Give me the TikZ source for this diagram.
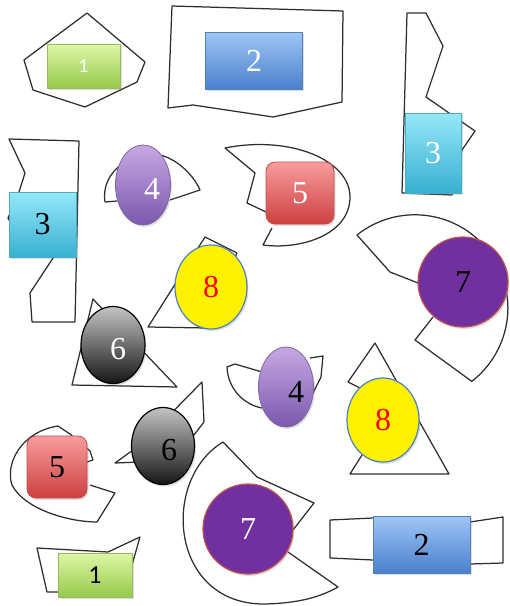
\documentclass[tikz,border=0pt]{standalone}
\usepackage{fontspec}
\setmainfont{Liberation Serif}
\newfontfamily\onefont{Carlito}
\usetikzlibrary{shapes.geometric,shadows}
\definecolor{gtop}{HTML}{DDF7A6}\definecolor{gbot}{HTML}{97C94C}\definecolor{gbd}{HTML}{9BBB59}
\definecolor{btop}{HTML}{A0C6F7}\definecolor{bbot}{HTML}{4A80CC}\definecolor{bbd}{HTML}{4F81BD}
\definecolor{ctop}{HTML}{95E8F8}\definecolor{cbot}{HTML}{38B0D2}\definecolor{cbd}{HTML}{4BACC6}
\definecolor{vtop}{HTML}{C6A9E3}\definecolor{vbot}{HTML}{7A58AE}\definecolor{vbd}{HTML}{8064A2}
\definecolor{rtop}{HTML}{F99C9C}\definecolor{rbot}{HTML}{CC4040}\definecolor{rbd}{HTML}{C0504D}
\definecolor{ybd}{HTML}{4F81BD}
\definecolor{pfill}{HTML}{7030A0}
\definecolor{ktop}{HTML}{C4C4C4}\definecolor{kbot}{HTML}{151515}
\begin{document}
\begin{tikzpicture}[x=1pt,y=-1pt,
  outl/.style={draw=black!82,line width=1.25pt,line join=round},
  shd/.style={drop shadow={opacity=0.25,shadow xshift=1.5pt,shadow yshift=-2pt}},
  num/.style={font=\fontsize{32}{32}\selectfont,inner sep=0pt},
  greenbox/.style={rectangle,shd,draw=gbd,line width=0.8pt,top color=gtop,bottom color=gbot,inner sep=0pt},
  bluebox/.style={rectangle,shd,draw=bbd,line width=0.8pt,top color=btop,bottom color=bbot,inner sep=0pt,minimum width=97pt,minimum height=57pt,num},
  cyanbox/.style={rectangle,shd,draw=cbd,line width=0.8pt,top color=ctop,bottom color=cbot,inner sep=0pt,num},
  violetell/.style={ellipse,shd,draw=vbd,line width=0.8pt,top color=vtop,bottom color=vbot,inner sep=0pt,minimum width=55pt,minimum height=80pt},
  redbox/.style={rectangle,rounded corners=9pt,shd,draw=rbd,line width=0.8pt,top color=rtop,bottom color=rbot,inner sep=0pt,num},
  yellowell/.style={ellipse,shd,draw=ybd,line width=1.2pt,fill=yellow,inner sep=0pt,minimum width=72pt,minimum height=84pt,num,text=red},
  purplecirc/.style={circle,shd,draw=rbd,line width=1.2pt,fill=pfill,inner sep=0pt,minimum size=90pt,num},
  greyell/.style={ellipse,shd,draw=black,line width=1.2pt,top color=ktop,bottom color=kbot,inner sep=0pt,minimum width=64pt,minimum height=77pt}]
\useasboundingbox (0,0) rectangle (510,606);
% ---------- outlines ----------
\draw[outl] (87,13) -- (145,62) -- (137,82) -- (85,107) -- (33,90) -- (24,60) -- cycle;
\draw[outl] (172,6) -- (343,11) -- (342,102) -- (273,117) -- (193,105) -- (168,108) -- cycle;
\draw[outl] (407,13) -- (426,13) -- (443,46) -- (426,97) -- (475,131) -- (462,150) -- (452,195) -- (402,193) -- cycle;
\draw[outl] (9,139) -- (79,141) -- (75,322) -- (32,322) -- (30,293) -- (55,255) -- (20,240) -- (8,218) -- (19,192) -- (25,173) -- cycle;
\draw[outl] (117,201) -- (105,202) .. controls (100,170) and (135,150) .. (160,155) .. controls (180,160) and (195,178) .. (200,190) -- (170,200);
\draw[outl] (266,212) -- (247,203) -- (255,173) -- (225,148) .. controls (290,135) and (350,160) .. (350,197) .. controls (350,235) and (300,250) .. (263,245) -- (272,228);
\draw[outl] (418,283) -- (390,272) -- (357,235) arc[start angle=231.5,end angle=412.3,radius=93] -- (415,340) -- (433,317);
\draw[outl] (205,237) -- (237,253) -- (215,300) -- (207,328) -- (148,327) -- cycle;
\draw[outl] (93,299) -- (72,385) -- (177,387) -- cycle;
\draw[outl] (262,372) -- (235,364) -- (227,367) .. controls (228,390) and (245,405) .. (262,408);
\draw[outl] (310,358) -- (323,356) -- (321,377) -- (312,395);
\draw[outl] (360,388) -- (348,382) -- (375,343) -- (449,474) -- (350,474) -- (362,455);
\draw[outl] (90,485) -- (115,493) -- (97,522) .. controls (70,522) and (25,510) .. (12,485) .. controls (5,465) and (20,432) .. (58,426) -- (70,434) -- (90,451) -- (93,460) -- (87,462);
\draw[outl] (115,463) -- (140,445) -- (202,382) -- (204,422) -- (190,440) -- (140,462) -- cycle;
\draw[outl] (293,530) -- (314,503) -- (257,477) -- (223,442) .. controls (160,480) and (170,605) .. (265,604) .. controls (300,603) and (320,597) .. (338,587) -- (288,552);
\draw[outl] (37,548) -- (108,552) -- (140,537) -- (132,565) -- (120,592) -- (47,592) -- cycle;
\draw[outl] (330,520) -- (373,518) -- (470,522) -- (503,517) -- (503,563) -- (470,564) -- (373,560) -- (330,558) -- cycle;
% ---------- coloured shapes ----------
\node[greenbox,minimum width=73pt,minimum height=44pt,text=white,font=\onefont\fontsize{20}{20}\selectfont] (g1a) at (83.5,66) {1};
\node[bluebox,text=white] (b2a) at (254,60.5) {2};
\node[cyanbox,minimum width=56pt,minimum height=80pt,text=white] (c3a) at (433,153) {3};
\node[cyanbox,minimum width=67pt,minimum height=65pt] (c3b) at (42.5,224.5) {3};
\node[violetell] (v4a) at (143,185) {};
\node[num,text=white] (t4a) at (152,189) {4};
\node[redbox,minimum width=68pt,minimum height=62pt,text=white] (r5a) at (300,193) {5};
\node[yellowell] (y8a) at (211,287) {8};
\node[purplecirc] (p7a) at (463,282) {7};
\node[greyell] (k6a) at (113,345) {};
\node[num,text=white] (t6a) at (118,349) {6};
\node[violetell] (v4b) at (286,387) {};
\node[num] (t4b) at (296,392) {4};
\node[yellowell] (y8b) at (383,420) {8};
\node[redbox,minimum width=60pt,minimum height=62pt] (r5b) at (57,467) {5};
\node[greyell,minimum width=63pt] (k6b) at (163,446) {};
\node[num] (t6b) at (169,450) {6};
\node[purplecirc,text=white] (p7b) at (248,529) {7};
\node[greenbox,minimum width=74pt,minimum height=44pt,font=\onefont\fontsize{26}{26}\selectfont] (g1b) at (95,575) {1};
\node[bluebox] (b2b) at (421.5,544.5) {2};
\end{tikzpicture}
\end{document}
